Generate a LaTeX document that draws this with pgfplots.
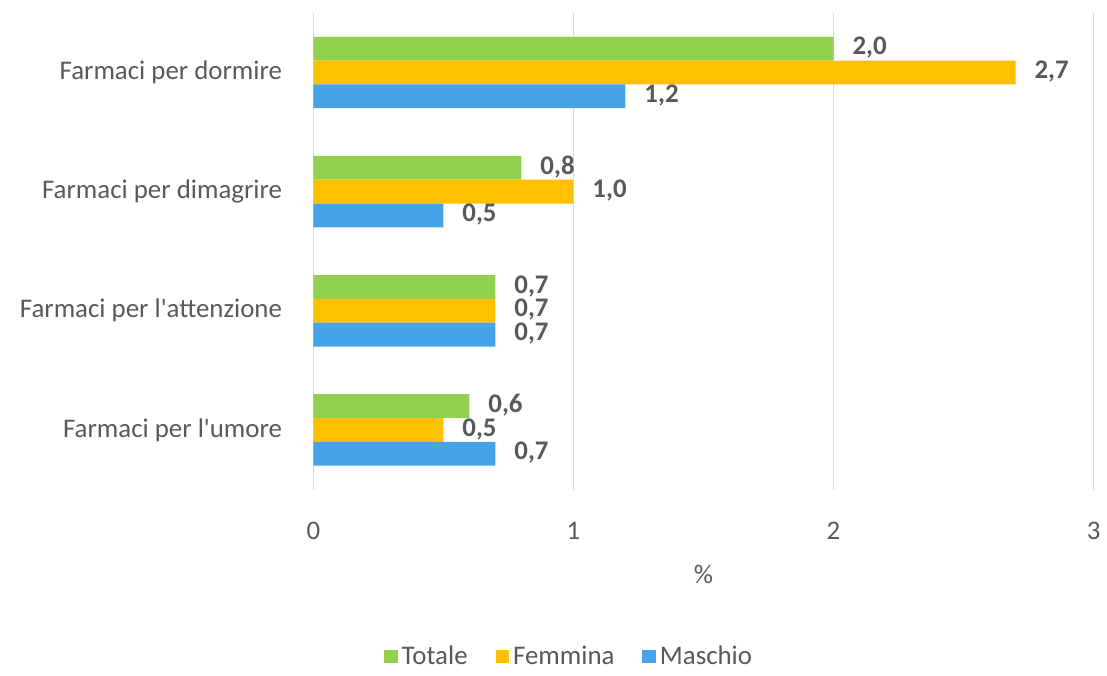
\documentclass[border=0pt]{standalone}
\usepackage{pgfplots}
\pgfplotsset{compat=1.18}
\usepackage{fontspec}
\setmainfont{Carlito}
\definecolor{cTot}{HTML}{92D050}
\definecolor{cFem}{HTML}{FFC000}
\definecolor{cMas}{HTML}{45A3E8}
\definecolor{txt}{HTML}{595959}
\definecolor{gridc}{HTML}{D9D9D9}
\begin{document}
\begin{tikzpicture}
\begin{axis}[
  xbar, bar width=0.2,
  scale only axis, width=392pt, height=239.5pt,
  xmin=0, xmax=3, ymin=-0.5, ymax=3.5,
  y dir=reverse,
  ytick={0,1,2,3},
  yticklabels={Farmaci per dormire,Farmaci per dimagrire,Farmaci per l\textquotesingle attenzione,Farmaci per l\textquotesingle umore},
  xtick={0,1,2,3},
  xmajorgrids=true, ymajorgrids=false,
  major grid style={draw=gridc, line width=0.8pt},
  axis line style={draw=none}, tick style={draw=none},
  font=\fontsize{13.5}{16}\selectfont, text=txt,
  /pgf/number format/assume math mode=true,
  xticklabel style={yshift=-13pt},
  yticklabel style={xshift=-8pt},
  xlabel={\%},
  xlabel style={at={(rel axis cs:0.5,-0.178)}, anchor=center},
  clip=false,
  nodes near coords,
  every node near coord/.append style={font=\fontsize{13.5}{16}\selectfont\bfseries, text=txt, anchor=west, xshift=6pt,
    inner ysep=0pt, text height=1.6ex, text depth=0.3ex,
    /pgf/number format/.cd, fixed, fixed zerofill, precision=1, use comma, assume math mode=true},
  legend style={at={(rel axis cs:0.329,-0.35)}, anchor=center, draw=none, legend columns=-1,
    /tikz/every even column/.append style={column sep=12pt}},
  legend image code/.code={\fill[#1] (0cm,-0.12cm) rectangle (0.24cm,0.12cm);},
]
\addplot[fill=cTot, draw=none, bar shift=-0.2] coordinates {(2.0,0) (0.8,1) (0.7,2) (0.6,3)};
\addplot[fill=cFem, draw=none, bar shift=0] coordinates {(2.7,0) (1.0,1) (0.7,2) (0.5,3)};
\addplot[fill=cMas, draw=none, bar shift=0.2] coordinates {(1.2,0) (0.5,1) (0.7,2) (0.7,3)};
\legend{Totale,Femmina,Maschio}
\path (rel axis cs:-0.4018,-0.3633) rectangle (rel axis cs:1.0102,1.0271);
\end{axis}
\end{tikzpicture}
\end{document}
